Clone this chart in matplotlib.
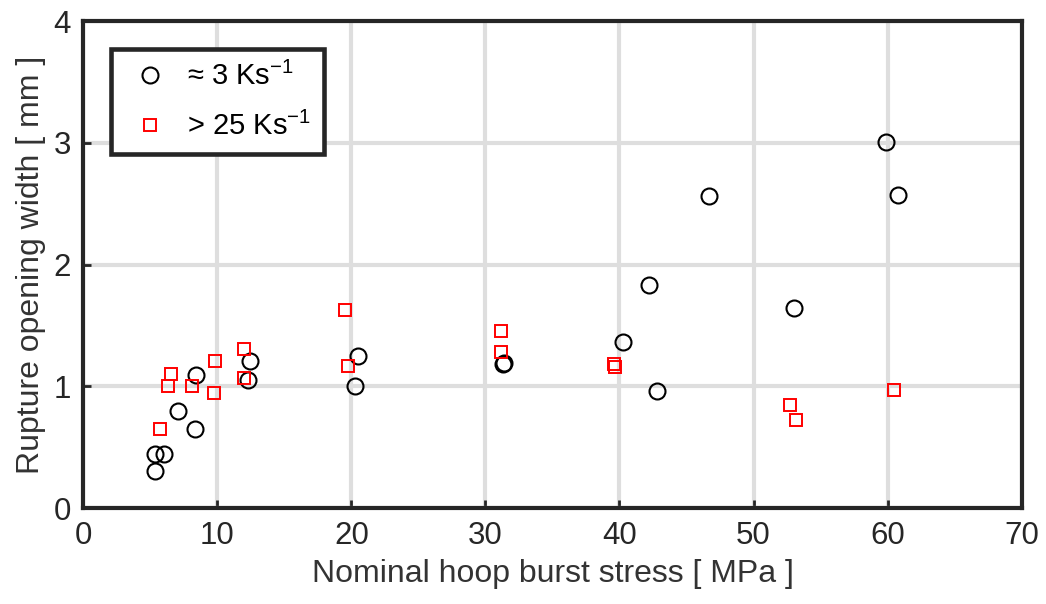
import numpy as np
import matplotlib
matplotlib.use("Agg")
import matplotlib.pyplot as plt

plt.rcParams['font.family'] = ['Liberation Sans', 'DejaVu Sans']
plt.rcParams['mathtext.fontset'] = 'custom'
plt.rcParams['mathtext.rm'] = 'Liberation Sans'

# slow heating rate (~3 K/s)
stress_slow = [5.35, 5.38, 6.03, 7.05, 8.35, 8.42, 12.31, 12.46, 20.25, 20.48,
               31.3, 31.4, 40.25, 42.17, 42.82, 46.65, 53.05, 59.87, 60.75]
width_slow = [0.30, 0.44, 0.447, 0.80, 0.647, 1.09, 1.055, 1.21, 1.006, 1.247,
              1.18, 1.19, 1.36, 1.83, 0.96, 2.56, 1.64, 3.01, 2.575]

# fast heating rate (>25 K/s)
stress_fast = [5.76, 6.33, 6.53, 8.10, 9.74, 9.82, 11.96, 11.98, 19.51, 19.76,
               31.16, 31.18, 39.57, 39.70, 52.72, 53.17, 60.49]
width_fast = [0.647, 1.00, 1.10, 1.006, 0.948, 1.205, 1.066, 1.307, 1.625, 1.167,
              1.28, 1.452, 1.187, 1.159, 0.85, 0.726, 0.973]

edge = '#262626'

fig = plt.figure(figsize=(10.46, 6.04), dpi=100)
ax = fig.add_axes([0.0796, 0.1589, 0.8971, 0.8063])

ax.plot(stress_slow, width_slow, 'o', ms=11.5, mfc='none', mec='black', mew=1.5,
        label='≈ 3 Ks$^{\\mathregular{-1}}$', zorder=3)
ax.plot(stress_fast, width_fast, 's', ms=8.6, mfc='none', mec='red', mew=1.4,
        label='> 25 Ks$^{\\mathregular{-1}}$', zorder=3)

ax.set_xlim(0, 70)
ax.set_ylim(0, 4)
ax.set_xticks(np.arange(0, 71, 10))
ax.set_yticks(np.arange(0, 5, 1))
ax.grid(True, color='#dedede', lw=3)
ax.set_axisbelow(True)
for s in ax.spines.values():
    s.set_linewidth(3)
    s.set_color(edge)
ax.tick_params(direction='in', length=6, width=2, color=edge, labelcolor=edge,
               labelsize=22.5, top=False, right=False, pad=9)

ax.set_xlabel('Nominal hoop burst stress [ MPa ]', fontsize=23, color='#333333',
              labelpad=6)
ax.set_ylabel('Rupture opening width [ mm ]', fontsize=23, color='#333333',
              labelpad=5)

leg = ax.legend(loc='upper left', bbox_to_anchor=(0.030, 0.9425), fontsize=21,
                frameon=True, fancybox=False, framealpha=1, borderpad=0.45,
                labelspacing=0.7, handlelength=1.75, handletextpad=0.40,
                borderaxespad=0)
leg.get_frame().set_edgecolor(edge)
leg.get_frame().set_linewidth(3.3)
for t in leg.get_texts():
    t.set_color('black')

fig.savefig('out.png', dpi=100)
